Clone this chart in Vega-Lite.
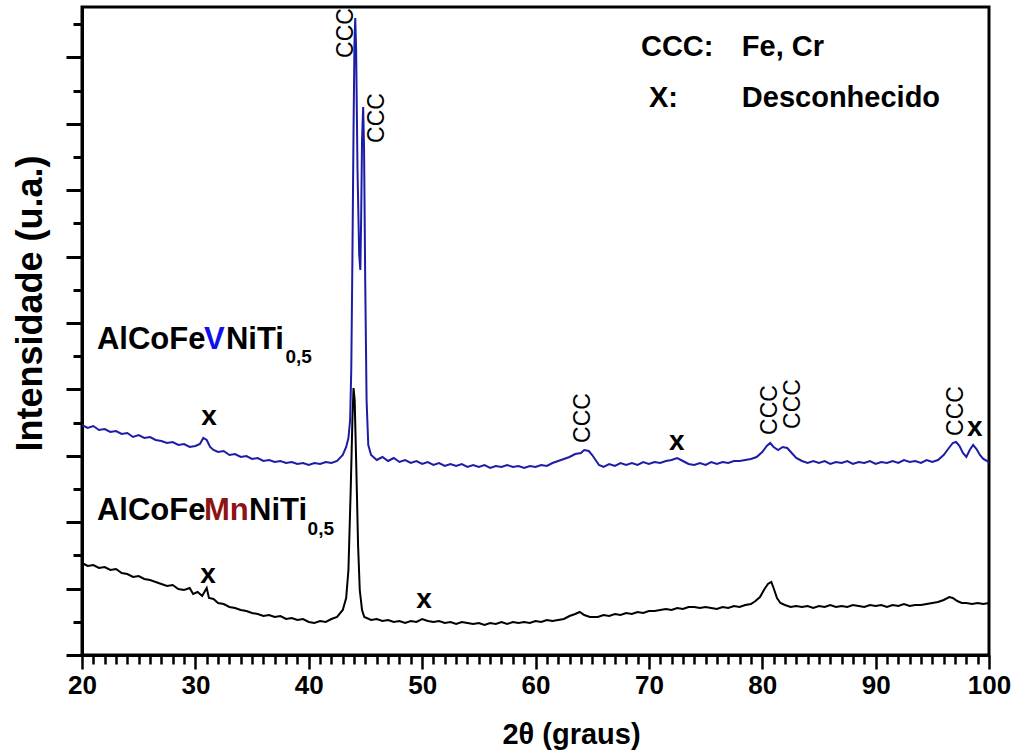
{
  "$schema": "https://vega.github.io/schema/vega-lite/v6.json",
  "autosize": {"type": "none"},
  "padding": {"left": 82, "top": 7, "right": 27, "bottom": 99},
  "width": 907,
  "height": 648,
  "background": "white",
  "config": {
    "view": {"stroke": "black", "strokeWidth": 3},
    "font": "Liberation Sans",
    "axis": {"domainColor": "black", "domainWidth": 3, "tickColor": "black", "grid": false, "labelOverlap": false, "labelFlush": false, "labelBound": false}
  },
  "datasets": {
    "V": [
      {"t":20.0,"i":230},{"t":20.5,"i":227},{"t":21.0,"i":229},{"t":21.5,"i":225},{"t":22.0,"i":226},{"t":22.5,"i":223},{"t":23.0,"i":224},{"t":23.5,"i":221},{"t":24.0,"i":222},{"t":24.5,"i":218},{"t":25.0,"i":220},{"t":25.5,"i":217},{"t":26.0,"i":218},{"t":26.5,"i":215},{"t":27.0,"i":214},{"t":27.5,"i":212},{"t":28.0,"i":213},{"t":28.5,"i":210},{"t":29.0,"i":211},{"t":29.5,"i":208},{"t":30.0,"i":209},{"t":30.4,"i":211},{"t":30.7,"i":217},{"t":31.0,"i":215},{"t":31.3,"i":208},{"t":31.6,"i":205},{"t":32.0,"i":203},{"t":32.5,"i":204},{"t":33.0,"i":200},{"t":33.5,"i":201},{"t":34.0,"i":198},{"t":34.5,"i":199},{"t":35.0,"i":196},{"t":35.5,"i":197},{"t":36.0,"i":194},{"t":36.5,"i":195},{"t":37.0,"i":193},{"t":37.5,"i":194},{"t":38.0,"i":192},{"t":38.5,"i":193},{"t":39.0,"i":191},{"t":39.5,"i":192},{"t":40.0,"i":190},{"t":40.5,"i":192},{"t":41.0,"i":191},{"t":41.5,"i":193},{"t":42.0,"i":192},{"t":42.5,"i":194},{"t":43.0,"i":200},{"t":43.3,"i":208},{"t":43.5,"i":217},{"t":43.65,"i":235},{"t":43.75,"i":285},{"t":43.85,"i":395},{"t":43.95,"i":525},{"t":44.03,"i":610},{"t":44.1,"i":637},{"t":44.18,"i":605},{"t":44.3,"i":485},{"t":44.45,"i":400},{"t":44.55,"i":385},{"t":44.62,"i":435},{"t":44.7,"i":515},{"t":44.8,"i":548},{"t":44.88,"i":505},{"t":44.98,"i":375},{"t":45.1,"i":255},{"t":45.25,"i":210},{"t":45.5,"i":200},{"t":45.8,"i":197},{"t":46.0,"i":195},{"t":46.5,"i":198},{"t":47.0,"i":194},{"t":47.5,"i":197},{"t":48.0,"i":193},{"t":48.5,"i":195},{"t":49.0,"i":192},{"t":49.5,"i":194},{"t":50.0,"i":191},{"t":50.5,"i":193},{"t":51.0,"i":190},{"t":51.5,"i":192},{"t":52.0,"i":189},{"t":52.5,"i":191},{"t":53.0,"i":189},{"t":53.5,"i":191},{"t":54.0,"i":188},{"t":54.5,"i":190},{"t":55.0,"i":188},{"t":55.5,"i":190},{"t":56.0,"i":187},{"t":56.5,"i":189},{"t":57.0,"i":188},{"t":57.5,"i":190},{"t":58.0,"i":188},{"t":58.5,"i":189},{"t":59.0,"i":187},{"t":59.5,"i":189},{"t":60.0,"i":188},{"t":60.5,"i":190},{"t":61.0,"i":189},{"t":61.5,"i":192},{"t":62.0,"i":194},{"t":62.5,"i":196},{"t":63.0,"i":198},{"t":63.5,"i":201},{"t":64.0,"i":202},{"t":64.3,"i":205},{"t":64.7,"i":204},{"t":65.0,"i":200},{"t":65.3,"i":195},{"t":65.6,"i":190},{"t":66.0,"i":188},{"t":66.5,"i":191},{"t":67.0,"i":189},{"t":67.5,"i":192},{"t":68.0,"i":190},{"t":68.5,"i":192},{"t":69.0,"i":190},{"t":69.5,"i":193},{"t":70.0,"i":191},{"t":70.5,"i":193},{"t":71.0,"i":192},{"t":71.5,"i":194},{"t":72.0,"i":195},{"t":72.5,"i":197},{"t":73.0,"i":194},{"t":73.5,"i":191},{"t":74.0,"i":190},{"t":74.5,"i":192},{"t":75.0,"i":190},{"t":75.5,"i":193},{"t":76.0,"i":191},{"t":76.5,"i":193},{"t":77.0,"i":192},{"t":77.5,"i":194},{"t":78.0,"i":194},{"t":78.5,"i":195},{"t":79.0,"i":196},{"t":79.5,"i":198},{"t":80.0,"i":203},{"t":80.4,"i":209},{"t":80.7,"i":212},{"t":81.0,"i":208},{"t":81.4,"i":205},{"t":81.8,"i":208},{"t":82.2,"i":207},{"t":82.6,"i":202},{"t":83.0,"i":197},{"t":83.5,"i":194},{"t":84.0,"i":192},{"t":84.5,"i":194},{"t":85.0,"i":192},{"t":85.5,"i":194},{"t":86.0,"i":191},{"t":86.5,"i":193},{"t":87.0,"i":192},{"t":87.5,"i":194},{"t":88.0,"i":191},{"t":88.5,"i":193},{"t":89.0,"i":192},{"t":89.5,"i":194},{"t":90.0,"i":191},{"t":90.5,"i":193},{"t":91.0,"i":192},{"t":91.5,"i":194},{"t":92.0,"i":192},{"t":92.5,"i":195},{"t":93.0,"i":193},{"t":93.5,"i":194},{"t":94.0,"i":192},{"t":94.5,"i":195},{"t":95.0,"i":193},{"t":95.5,"i":195},{"t":96.0,"i":200},{"t":96.4,"i":206},{"t":96.8,"i":212},{"t":97.1,"i":213},{"t":97.4,"i":209},{"t":97.7,"i":202},{"t":98.0,"i":198},{"t":98.3,"i":205},{"t":98.6,"i":210},{"t":98.9,"i":206},{"t":99.2,"i":200},{"t":99.5,"i":196},{"t":100.0,"i":193}
    ],
    "Mn": [
      {"t":20.0,"i":92},{"t":20.5,"i":89},{"t":21.0,"i":90},{"t":21.5,"i":87},{"t":22.0,"i":88},{"t":22.5,"i":85},{"t":23.0,"i":86},{"t":23.5,"i":82},{"t":24.0,"i":81},{"t":24.5,"i":78},{"t":25.0,"i":79},{"t":25.5,"i":76},{"t":26.0,"i":75},{"t":26.5,"i":73},{"t":27.0,"i":71},{"t":27.5,"i":69},{"t":28.0,"i":70},{"t":28.5,"i":66},{"t":29.0,"i":65},{"t":29.5,"i":67},{"t":29.8,"i":61},{"t":30.2,"i":63},{"t":30.6,"i":59},{"t":31.0,"i":67},{"t":31.2,"i":57},{"t":31.6,"i":56},{"t":32.0,"i":52},{"t":32.5,"i":51},{"t":33.0,"i":48},{"t":33.5,"i":47},{"t":34.0,"i":45},{"t":34.5,"i":44},{"t":35.0,"i":42},{"t":35.5,"i":41},{"t":36.0,"i":39},{"t":36.5,"i":40},{"t":37.0,"i":38},{"t":37.5,"i":39},{"t":38.0,"i":36},{"t":38.5,"i":37},{"t":39.0,"i":35},{"t":39.5,"i":36},{"t":40.0,"i":33},{"t":40.5,"i":32},{"t":41.0,"i":34},{"t":41.5,"i":33},{"t":42.0,"i":36},{"t":42.5,"i":38},{"t":43.0,"i":45},{"t":43.3,"i":57},{"t":43.5,"i":85},{"t":43.7,"i":165},{"t":43.85,"i":235},{"t":43.95,"i":267},{"t":44.05,"i":255},{"t":44.2,"i":185},{"t":44.35,"i":110},{"t":44.5,"i":65},{"t":44.7,"i":45},{"t":44.9,"i":38},{"t":45.5,"i":35},{"t":46.0,"i":36},{"t":46.5,"i":34},{"t":47.0,"i":35},{"t":47.5,"i":33},{"t":48.0,"i":34},{"t":48.5,"i":32},{"t":49.0,"i":34},{"t":49.5,"i":33},{"t":50.0,"i":36},{"t":50.5,"i":34},{"t":51.0,"i":33},{"t":51.5,"i":34},{"t":52.0,"i":32},{"t":52.5,"i":33},{"t":53.0,"i":31},{"t":53.5,"i":33},{"t":54.0,"i":32},{"t":54.5,"i":31},{"t":55.0,"i":32},{"t":55.5,"i":30},{"t":56.0,"i":32},{"t":56.5,"i":31},{"t":57.0,"i":33},{"t":57.5,"i":31},{"t":58.0,"i":33},{"t":58.5,"i":32},{"t":59.0,"i":33},{"t":59.5,"i":32},{"t":60.0,"i":34},{"t":60.5,"i":33},{"t":61.0,"i":35},{"t":61.5,"i":34},{"t":62.0,"i":35},{"t":62.5,"i":36},{"t":63.0,"i":39},{"t":63.5,"i":41},{"t":63.9,"i":43},{"t":64.3,"i":40},{"t":64.8,"i":38},{"t":65.5,"i":38},{"t":66.0,"i":40},{"t":66.5,"i":39},{"t":67.0,"i":41},{"t":67.5,"i":40},{"t":68.0,"i":42},{"t":68.5,"i":41},{"t":69.0,"i":43},{"t":69.5,"i":42},{"t":70.0,"i":44},{"t":70.5,"i":44},{"t":71.0,"i":45},{"t":71.5,"i":46},{"t":72.0,"i":45},{"t":72.5,"i":47},{"t":73.0,"i":46},{"t":73.5,"i":48},{"t":74.0,"i":48},{"t":74.5,"i":47},{"t":75.0,"i":48},{"t":75.5,"i":47},{"t":76.0,"i":46},{"t":76.5,"i":48},{"t":77.0,"i":47},{"t":77.5,"i":49},{"t":78.0,"i":48},{"t":78.5,"i":50},{"t":79.0,"i":51},{"t":79.4,"i":54},{"t":79.8,"i":58},{"t":80.2,"i":66},{"t":80.5,"i":71},{"t":80.8,"i":73},{"t":81.0,"i":67},{"t":81.3,"i":57},{"t":81.6,"i":52},{"t":82.0,"i":50},{"t":82.5,"i":48},{"t":83.0,"i":49},{"t":83.5,"i":48},{"t":84.0,"i":49},{"t":84.5,"i":47},{"t":85.0,"i":49},{"t":85.5,"i":48},{"t":86.0,"i":50},{"t":86.5,"i":48},{"t":87.0,"i":49},{"t":87.5,"i":48},{"t":88.0,"i":50},{"t":88.5,"i":49},{"t":89.0,"i":48},{"t":89.5,"i":50},{"t":90.0,"i":49},{"t":90.5,"i":50},{"t":91.0,"i":48},{"t":91.5,"i":50},{"t":92.0,"i":49},{"t":92.5,"i":51},{"t":93.0,"i":49},{"t":93.5,"i":50},{"t":94.0,"i":50},{"t":94.5,"i":51},{"t":95.0,"i":52},{"t":95.5,"i":53},{"t":96.0,"i":55},{"t":96.5,"i":58},{"t":96.8,"i":57},{"t":97.2,"i":54},{"t":97.6,"i":52},{"t":98.0,"i":52},{"t":98.5,"i":51},{"t":99.0,"i":52},{"t":99.5,"i":51},{"t":100.0,"i":52}
    ],
    "ccc": [
      {"t":43.28,"i":622,"label":"CCC"},{"t":46.01,"i":537,"label":"CCC"},{"t":64.18,"i":237,"label":"CCC"},{"t":80.67,"i":245,"label":"CCC"},{"t":82.7,"i":251,"label":"CCC"},{"t":97.07,"i":244,"label":"CCC"}
    ],
    "xm": [
      {"t":31.2,"i":238,"label":"x"},{"t":72.47,"i":213,"label":"x"},{"t":98.75,"i":227,"label":"x"},{"t":31.11,"i":80,"label":"x"},{"t":50.16,"i":55,"label":"x"}
    ],
    "leg": [
      {"t":69.3,"i":608,"label":"CCC:"},{"t":78.2,"i":608,"label":"Fe, Cr"},{"t":70.0,"i":557,"label":"X:"},{"t":78.2,"i":557,"label":"Desconhecido"}
    ],
    "sblack": [
      {"t":21.32,"i":315,"label":"AlCoFe"},{"t":32.7,"i":315,"label":"NiTi"},{"t":21.32,"i":144,"label":"AlCoFe"},{"t":34.73,"i":144,"label":"NiTi"}
    ],
    "sV": [{"t":30.76,"i":315,"label":"V"}],
    "sMn": [{"t":30.76,"i":144,"label":"Mn"}],
    "sub": [{"t":37.95,"i":298,"label":"0,5"},{"t":39.9,"i":126,"label":"0,5"}]
  },
  "encoding": {
    "x": {"field": "t", "type": "quantitative", "scale": {"domain": [20, 100], "nice": false, "zero": false},
      "axis": {
        "title": "2θ (graus)", "titleFontSize": 29, "titleFontWeight": "bold", "titleColor": "black",
        "titleX": 489, "titleY": 79, "titleAlign": "center", "titleBaseline": "middle",
        "values": [20,21,22,23,24,25,26,27,28,29,30,31,32,33,34,35,36,37,38,39,40,41,42,43,44,45,46,47,48,49,50,51,52,53,54,55,56,57,58,59,60,61,62,63,64,65,66,67,68,69,70,71,72,73,74,75,76,77,78,79,80,81,82,83,84,85,86,87,88,89,90,91,92,93,94,95,96,97,98,99,100],
        "labelExpr": "datum.value % 10 === 0 ? datum.label : ''",
        "labelFontSize": 26, "labelFontWeight": "bold", "labelColor": "black", "labelOverlap": false, "labelFlush": false,
        "labelPadding": 3,
        "tickWidth": 2.5,
        "tickSize": {"condition": {"test": "datum.value % 10 === 0", "value": 14}, "value": 9}
      }},
    "y": {"field": "i", "type": "quantitative", "scale": {"domain": [0, 648], "nice": false, "zero": false},
      "axis": {
        "title": "Intensidade (u.a.)", "titleFontSize": 36, "titleFontWeight": "bold", "titleColor": "black",
        "titleAngle": 270, "titleX": -52, "titleY": 296, "titleAlign": "center", "titleBaseline": "middle",
        "values": [0,33.2,66.4,99.6,132.8,166,199.2,232.4,265.6,298.8,332,365.2,398.4,431.6,464.8,498,531.2,564.4,597.6,630.8],
        "labels": false,
        "tickWidth": 3,
        "tickSize": {"condition": {"test": "round(datum.value / 33.2) % 2 === 0", "value": 16}, "value": 9}
      }}
  },
  "layer": [
    {
      "data": {"name": "V"},
      "mark": {"type": "line", "color": "#1c1ca6", "strokeWidth": 2, "clip": true}
    },
    {
      "data": {"name": "Mn"},
      "mark": {"type": "line", "color": "#000000", "strokeWidth": 2, "clip": true}
    },
    {
      "data": {"name": "ccc"},
      "mark": {"type": "text", "angle": 270, "fontSize": 23, "color": "black", "align": "center", "baseline": "middle"},
      "encoding": {"text": {"field": "label"}}
    },
    {
      "data": {"name": "xm"},
      "mark": {"type": "text", "fontSize": 28, "fontWeight": "bold", "color": "black", "align": "center", "baseline": "middle"},
      "encoding": {"text": {"field": "label"}}
    },
    {
      "data": {"name": "leg"},
      "mark": {"type": "text", "fontSize": 29, "fontWeight": "bold", "color": "black", "align": "left", "baseline": "middle"},
      "encoding": {"text": {"field": "label"}}
    },
    {
      "data": {"name": "sblack"},
      "mark": {"type": "text", "fontSize": 31, "fontWeight": "bold", "color": "black", "align": "left", "baseline": "middle"},
      "encoding": {"text": {"field": "label"}}
    },
    {
      "data": {"name": "sV"},
      "mark": {"type": "text", "fontSize": 31, "fontWeight": "bold", "color": "#1010ee", "align": "left", "baseline": "middle"},
      "encoding": {"text": {"field": "label"}}
    },
    {
      "data": {"name": "sMn"},
      "mark": {"type": "text", "fontSize": 31, "fontWeight": "bold", "color": "#8c1414", "align": "left", "baseline": "middle"},
      "encoding": {"text": {"field": "label"}}
    },
    {
      "data": {"name": "sub"},
      "mark": {"type": "text", "fontSize": 19, "fontWeight": "bold", "color": "black", "align": "left", "baseline": "middle"},
      "encoding": {"text": {"field": "label"}}
    }
  ]
}
